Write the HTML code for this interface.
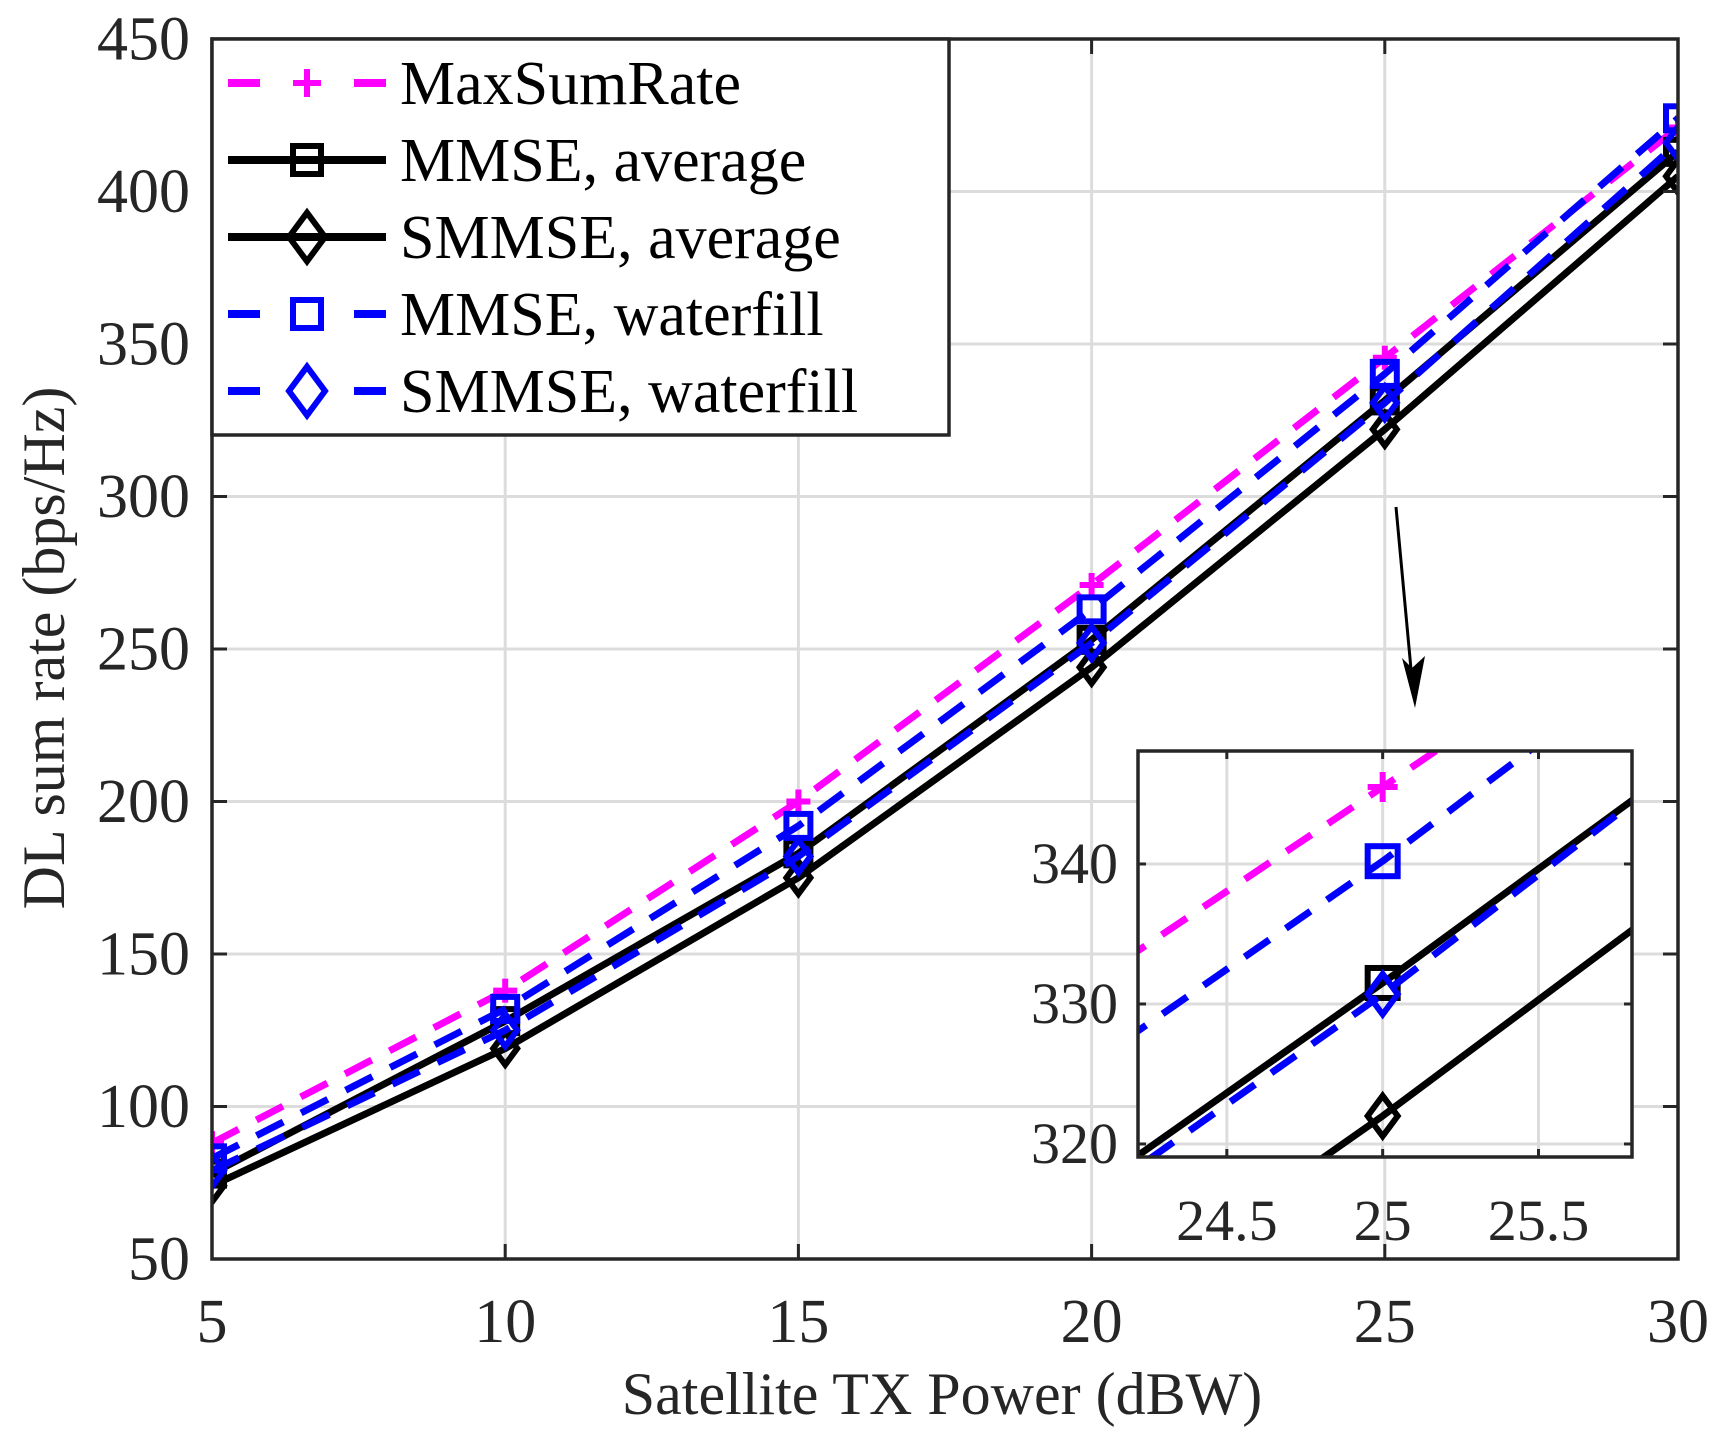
<!DOCTYPE html>
<html><head><meta charset="utf-8"><style>
html,body{margin:0;padding:0;background:#fff;width:1717px;height:1444px;overflow:hidden;}
svg{display:block;font-family:"Liberation Serif",serif;overflow:hidden;}
</style></head><body>
<svg id="chart" width="1717" height="1444" viewBox="0 0 1717 1444" xmlns="http://www.w3.org/2000/svg">
<g id="main"></g>
<g id="inset"></g>
<g id="legend"></g>
</svg>
<script>
const xValues = [5, 10, 15, 20, 25, 30];
const maxSumRate = [88, 138, 200, 271, 345.5, 421];
const mmseAverage = [78, 128, 183, 253, 331.5, 413];
const smmseAverage = [74, 119, 175, 244, 322, 405];
const mmseWaterfill = [83, 132, 192, 263, 340.2, 424];
const smmseWaterfill = [79, 125, 182, 252, 330.7, 416];
const seriesNames = ["MaxSumRate", "MMSE, average", "SMMSE, average", "MMSE, waterfill", "SMMSE, waterfill"];
const xTicks = [5, 10, 15, 20, 25, 30];
const yTicks = [50, 100, 150, 200, 250, 300, 350, 400, 450];
const insetXTicks = [24.5, 25, 25.5];
const insetYTicks = [320, 330, 340];

const NS = "http://www.w3.org/2000/svg";
function mk(tag, attrs, parent, text) {
  const e = document.createElementNS(NS, tag);
  for (const k in attrs) e.setAttribute(k, attrs[k]);
  if (text !== undefined) e.textContent = text;
  parent.appendChild(e);
  return e;
}
const seriesData = [maxSumRate, mmseAverage, smmseAverage, mmseWaterfill, smmseWaterfill];
const seriesStyle = [
  {color: "#ff00ff", dash: "30 20", marker: "plus"},
  {color: "#000000", dash: "", marker: "square"},
  {color: "#000000", dash: "", marker: "diamond"},
  {color: "#0000ff", dash: "30 20", marker: "square"},
  {color: "#0000ff", dash: "30 20", marker: "diamond"}
];
const slugs = ["maxsumrate", "mmse-average", "smmse-average", "mmse-waterfill", "smmse-waterfill"];

function drawMarker(g, type, cx, cy, color, s) {
  let m;
  if (type === "plus") {
    m = mk("path", {d: `M${cx - s} ${cy}H${cx + s}M${cx} ${cy - s}V${cy + s}`, stroke: color, "stroke-width": 6, fill: "none"}, g);
  } else if (type === "square") {
    m = mk("rect", {x: cx - s, y: cy - s, width: 2 * s, height: 2 * s, stroke: color, "stroke-width": 6, fill: "none"}, g);
  } else {
    m = mk("path", {d: `M${cx} ${cy - s * 1.35}L${cx + s} ${cy}L${cx} ${cy + s * 1.35}L${cx - s} ${cy}Z`, stroke: color, "stroke-width": 6, fill: "none"}, g);
  }
  return m;
}

function drawAxes(g, L, R, T, B, xt, yt, xs, ys, clipId) {
  xt.forEach(v => { const gl = mk("line", {x1: xs(v), x2: xs(v), y1: T, y2: B, stroke: "#dcdcdc", "stroke-width": 3}, g);
    
     });
  yt.forEach(v => { const gl = mk("line", {x1: L, x2: R, y1: ys(v), y2: ys(v), stroke: "#dcdcdc", "stroke-width": 3}, g);
    
     });
  const defs = mk("defs", {}, g);
  const cp = mk("clipPath", {id: clipId}, defs);
  mk("rect", {x: L, y: T, width: R - L, height: B - T}, cp);
}
function drawFrame(g, L, R, T, B, xt, yt, xs, ys, fs, xLabY, yLabX, tick) {
  xt.forEach(v => {
    mk("line", {x1: xs(v), x2: xs(v), y1: B, y2: B - tick, stroke: "#262626", "stroke-width": 3}, g);
    mk("line", {x1: xs(v), x2: xs(v), y1: T, y2: T + tick, stroke: "#262626", "stroke-width": 3}, g);
    const t = mk("text", {x: xs(v), y: xLabY, "font-size": fs, "text-anchor": "middle", fill: "#262626"}, g, String(v));
    
    
  });
  yt.forEach(v => {
    mk("line", {x1: L, x2: L + tick, y1: ys(v), y2: ys(v), stroke: "#262626", "stroke-width": 3}, g);
    mk("line", {x1: R, x2: R - tick, y1: ys(v), y2: ys(v), stroke: "#262626", "stroke-width": 3}, g);
    const t = mk("text", {x: yLabX, y: ys(v) + fs * 0.33, "font-size": fs, "text-anchor": "end", fill: "#262626"}, g, String(v));
    
    
  });
  const fr = mk("rect", {x: L, y: T, width: R - L, height: B - T, fill: "none", stroke: "#262626", "stroke-width": 3.5}, g);
  
  
}
function drawSeries(g, xs, ys, clipId, ms, xMin, xMax) {
  const sg = mk("g", {"clip-path": `url(#${clipId})`}, g);
  seriesData.forEach((vals, i) => {
    const st = seriesStyle[i];
    const pts = xValues.map((x, j) => `${xs(x)},${ys(vals[j])}`).join(" ");
    const pl = mk("polyline", {points: pts, fill: "none", stroke: st.color, "stroke-width": 7, "stroke-dasharray": st.dash, "stroke-linejoin": "round"}, sg);
    
    
    xValues.forEach((x, j) => {
      if (x < xMin || x > xMax) return;
      const m = drawMarker(sg, st.marker, xs(x), ys(vals[j]), st.color, ms);
      
      
    });
  });
}

// Main plot
const mg = document.getElementById("main");
const L = 212, R = 1678, T = 39, B = 1259;
const xs = v => L + (v - 5) / 25 * (R - L);
const ys = v => B - (v - 50) / 400 * (B - T);
drawAxes(mg, L, R, T, B, xTicks, yTicks, xs, ys, "clipMain");
drawSeries(mg, xs, ys, "clipMain", 12, 5, 30);
drawFrame(mg, L, R, T, B, xTicks, yTicks, xs, ys, 62, 1342, 190, 15);
const xl = mk("text", {x: 942, y: 1414, "font-size": 60, "text-anchor": "middle", fill: "#262626"}, mg, "Satellite TX Power (dBW)");


const yl = mk("text", {x: 0, y: 0, "font-size": 60, "text-anchor": "middle", fill: "#262626", transform: "translate(64,648) rotate(-90)"}, mg, "DL sum rate (bps/Hz)");


const ar = mk("g", {}, mg);


mk("line", {x1: 1396, y1: 507, x2: 1412, y2: 680, stroke: "#000", "stroke-width": 3}, ar);
mk("path", {d: "M1415 708L1402 658L1412 668L1425 656Z", fill: "#000"}, ar);

// Inset
const ig = document.getElementById("inset");
const iL = 1138, iR = 1632, iT = 751, iB = 1157;
const ixs = v => iL + (v - 24.215) / (25.8 - 24.215) * (iR - iL);
const iys = v => iB - (v - 319.07) / (348.07 - 319.07) * (iB - iT);
mk("rect", {x: iL, y: iT, width: iR - iL, height: iB - iT, fill: "#fff"}, ig);
drawAxes(ig, iL, iR, iT, iB, insetXTicks, insetYTicks, ixs, iys, "clipInset");
drawSeries(ig, ixs, iys, "clipInset", 15, 24.2, 25.8);
drawFrame(ig, iL, iR, iT, iB, insetXTicks, insetYTicks, ixs, iys, 58, 1240, 1118, 8);

// Legend
const lg = document.getElementById("legend");
mk("rect", {x: 212, y: 39, width: 737, height: 396, fill: "#fff", stroke: "#262626", "stroke-width": 3.5}, lg);
const legY = [83, 160, 237, 314, 391];
seriesNames.forEach((nm, i) => {
  const st = seriesStyle[i];
  const e = mk("g", {}, lg);
  
  
  const y = legY[i];
  if (st.dash) {
    mk("line", {x1: 228, x2: 260, y1: y, y2: y, stroke: st.color, "stroke-width": 8}, e);
    mk("line", {x1: 354, x2: 386, y1: y, y2: y, stroke: st.color, "stroke-width": 8}, e);
  } else {
    mk("line", {x1: 228, x2: 386, y1: y, y2: y, stroke: st.color, "stroke-width": 8}, e);
  }
  drawMarker(e, st.marker, 307, y, st.color, st.marker === "diamond" ? 18 : 14);
  mk("text", {x: 400, y: y + 21, "font-size": 62, fill: "#000"}, e, nm);
});
</script>
</body></html>
